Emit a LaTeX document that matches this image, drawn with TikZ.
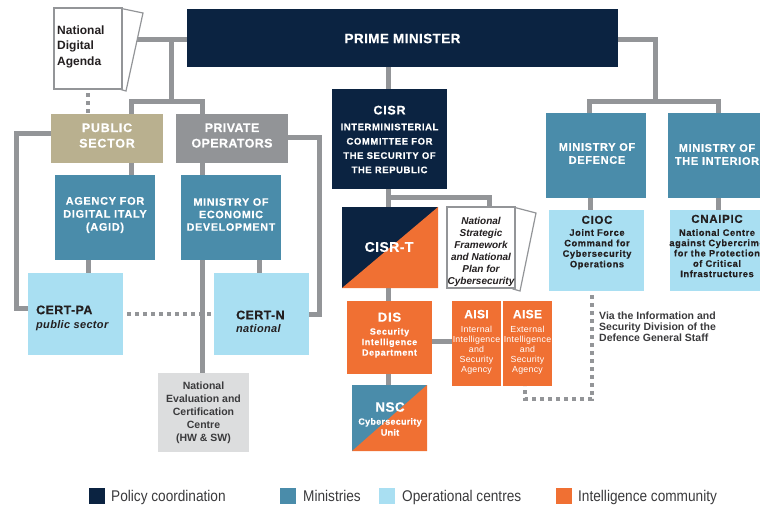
\documentclass[tikz,border=0pt]{standalone}
\usepackage{fontspec}
\setmainfont{Liberation Sans}
\newfontfamily\bxf[LetterSpace=6,BoldFeatures={FakeBold=0.35}]{Liberation Sans}
\newfontfamily\bxs[LetterSpace=3,BoldFeatures={FakeBold=0.35}]{Liberation Sans}
\newfontfamily\legf[FakeStretch=0.88]{Liberation Sans}
\newcommand\fsz[2]{\fontsize{#1}{#2}\selectfont}
\usetikzlibrary{calc,backgrounds}
\definecolor{navy}{HTML}{0B2341}
\definecolor{minblue}{HTML}{4A8CAA}
\definecolor{opblue}{HTML}{A9DFF2}
\definecolor{intor}{HTML}{F07033}
\definecolor{tanc}{HTML}{B9B08F}
\definecolor{boxgray}{HTML}{929497}
\definecolor{lngray}{HTML}{939598}
\definecolor{ltgray}{HTML}{DCDDDE}
\definecolor{ink}{HTML}{231F20}
\definecolor{dkgray}{HTML}{3A3A3C}
\begin{document}
\begin{tikzpicture}[x=1pt,y=-1pt,
  box/.style={rectangle,inner sep=0pt,outer sep=0pt},
  split/.style 2 args={box,fill=#1,path picture={\fill[#2] (path picture bounding box.south west) -- (path picture bounding box.south east) -- (path picture bounding box.north east) -- cycle;}},
  conn/.style={draw=lngray,line width=5pt},
  dotc/.style={draw=lngray,line width=4.5pt,dash pattern=on 4pt off 4pt},
  wt/.style={inner sep=0pt,align=center,text=white},
  dt/.style={inner sep=0pt,align=center,text=ink},
  sheet/.style={fill=white,draw=lngray,line width=1.2pt},
  lgtxt/.style={inner sep=0pt,anchor=base west,text=dkgray,font=\legf\fsz{15.5}{18}},
]
\useasboundingbox (0,0) rectangle (760,506);
\clip (0,0) rectangle (760,506);

% ---------- boxes ----------
\node[box,fill=navy,minimum width=431,minimum height=58] (pm) at (402.5,38) {};
\node[box,fill=tanc,minimum width=112,minimum height=49] (pub) at (107,138.5) {};
\node[box,fill=boxgray,minimum width=112,minimum height=49] (priv) at (232,138.5) {};
\node[box,fill=minblue,minimum width=100,minimum height=85] (agid) at (105,217.5) {};
\node[box,fill=minblue,minimum width=100,minimum height=85] (med) at (231,217.5) {};
\node[box,fill=opblue,minimum width=95,minimum height=82] (certpa) at (75.5,314) {};
\node[box,fill=opblue,minimum width=95,minimum height=82] (certn) at (261.5,314) {};
\node[box,fill=ltgray,minimum width=91,minimum height=79] (nec) at (203.5,412.5) {};
\node[box,fill=navy,minimum width=115,minimum height=100] (cisr) at (389.5,139) {};
\node[split={navy}{intor},minimum width=96,minimum height=81] (cisrt) at (390,247.5) {};
\node[box,fill=intor,minimum width=85,minimum height=73] (dis) at (389.5,337.5) {};
\node[box,fill=intor,minimum width=49,minimum height=85] (aisi) at (476.5,343.5) {};
\node[box,fill=intor,minimum width=49,minimum height=85] (aise) at (527.5,343.5) {};
\node[split={minblue}{intor},minimum width=75,minimum height=66] (nsc) at (389.5,418) {};
\node[box,fill=minblue,minimum width=100,minimum height=85] (mod) at (596,155.5) {};
\node[box,fill=minblue,minimum width=100,minimum height=85] (moi) at (718,155.5) {};
\node[box,fill=opblue,minimum width=95,minimum height=81] (cioc) at (596.5,250.5) {};
\node[box,fill=opblue,minimum width=96,minimum height=81] (cnaipic) at (718,250.5) {};

% documents
\path[sheet] (119,8) -- (143,13) -- (126,91) -- (119,89) -- cycle;
\node[box,sheet,minimum width=68,minimum height=81] (nda) at (88,48.5) {};
\path[sheet] (513,207) -- (536,213) -- (520,291) -- (513,289) -- cycle;
\node[box,sheet,minimum width=68,minimum height=81] (doc) at (481,247.5) {};

% ---------- connectors ----------
\begin{pgfonlayer}{background}
\draw[conn] (pm.west |- 0,39) -- (nda.east |- 0,39);
\coordinate (jl) at (171,39);
\draw[conn] (jl) -- (171,101);
\draw[conn] (pub.north -| 131.5,0) -- (131.5,101) -- (202.5,101) -- (priv.north -| 202.5,0);
\draw[dotc,dash phase=4pt] (nda.south) -- (nda.south |- pub.north);
\draw[conn] (pub.west |- 0,133.5) -- (16.5,133.5) -- (16.5,308.5) -- (certpa.west |- 0,308.5);
\draw[conn] (priv.east |- 0,137.5) -- (319,137.5) -- (319,314) -- (certn.east |- 0,314);
\draw[conn] (pub.south -| 131.5,0) -- (agid.north -| 131.5,0);
\draw[conn] (priv.south -| 202.5,0) -- (med.north -| 202.5,0);
\draw[conn] (agid.south -| 88.5,0) -- (certpa.north -| 88.5,0);
\draw[conn] (med.south -| 259.5,0) -- (certn.north -| 259.5,0);
\draw[dotc,dash phase=4pt] (certpa.east |- 0,314) -- (certn.west |- 0,314);
\draw[conn] (med.south -| 202.5,0) -- (nec.north -| 202.5,0);
% CISR chain
\draw[conn] (pm.south -| 388.7,0) -- (cisr.north -| 388.7,0);
\draw[conn] (cisr.south -| 388.7,0) -- (cisrt.north -| 388.7,0);
\draw[conn] (388.7,197) -- (489,197) -- (doc.north -| 489,0);
\draw[conn] (cisrt.south -| 388.7,0) -- (dis.north -| 388.7,0);
\draw[conn] (dis.east |- 0,341.5) -- (aisi.west |- 0,341.5);
\draw[conn] (dis.south -| 388.7,0) -- (nsc.north -| 388.7,0);
% right branch
\draw[conn] (pm.east |- 0,39) -- (655.5,39) -- (655.5,101);
\draw[conn] (mod.north -| 589.5,0) -- (589.5,101) -- (718.5,101) -- (moi.north -| 718.5,0);
\draw[conn] (mod.south -| 590,0) -- (cioc.north -| 590,0);
\draw[conn] (moi.south -| 718.5,0) -- (cnaipic.north -| 718.5,0);
\draw[dotc,dash phase=4pt] (cioc.south -| 592,0) -- (592,399) -- (525,399) -- (aise.south -| 525,0);
\end{pgfonlayer}

% ---------- texts ----------
\node[wt,font=\bxs\bfseries\fsz{13.5}{16}] (pm-l) at (402.5,38.5) {PRIME MINISTER};
\node[wt,font=\bxf\bfseries\fsz{12.5}{15.5}] (pub-l) at (107,135.5) {PUBLIC\\SECTOR};
\node[wt,font=\bxs\bfseries\fsz{12.5}{15.5}] (priv-l) at (232,135.5) {PRIVATE\\OPERATORS};
\node[wt,font=\bxf\bfseries\fsz{11}{13}] (agid-l) at (105,215) {AGENCY FOR\\DIGITAL ITALY\\(AGID)};
\node[wt,font=\bxf\bfseries\fsz{10.8}{12.5}] (med-l) at (231,214.5) {MINISTRY OF\\ECONOMIC\\DEVELOPMENT};
\node[dt,anchor=west,align=left,font=\bxs\bfseries\fsz{12.5}{14}] (certpa-l) at (36,318) {CERT-PA\\{\itshape\fsz{11}{14}public sector}};
\node[dt,anchor=west,align=left,font=\bxs\bfseries\fsz{12.5}{13}] (certn-l) at (236,321.5) {CERT-N\\{\itshape\fsz{11}{13}national}};
\node[inner sep=0pt,align=center,text=dkgray,font=\bfseries\fsz{10.5}{13}] (nec-l) at (203.5,413) {National\\Evaluation and\\Certification\\Centre\\(HW \& SW)};
\node[wt,font=\bxf\bfseries\fsz{9.5}{14.3}] (cisr-l) at (389.5,139.5) {{\fsz{12.5}{14.3}CISR}\\[1.5pt]INTERMINISTERIAL\\COMMITTEE FOR\\THE SECURITY OF\\THE REPUBLIC};
\node[wt,font=\bxs\bfseries\fsz{14}{16}] (cisrt-l) at (389,247) {CISR-T};
\node[inner sep=0pt,align=center,text=ink,font=\bfseries\itshape\fsz{10}{12}] (doc-l) at (481,252) {National\\Strategic\\Framework\\and National\\Plan for\\Cybersecurity};
\node[wt,font=\bxf\bfseries\fsz{9}{10.5}] (dis-l) at (389.5,335) {{\fsz{13}{10.5}DIS}\\[2.5pt]Security\\Intelligence\\Department};
\node[wt,font=\bxs\fsz{8.8}{10}] (aisi-l) at (476.5,342) {{\bfseries\fsz{12}{10}AISI}\\[4pt]Internal\\Intelligence\\and\\Security\\Agency};
\node[wt,font=\bxs\fsz{8.8}{10}] (aise-l) at (527.5,342) {{\bfseries\fsz{12}{10}AISE}\\[4pt]External\\Intelligence\\and\\Security\\Agency};
\node[wt,font=\bxs\bfseries\fsz{9}{11}] (nsc-l) at (390,419) {{\fsz{13.5}{11}NSC}\\[2pt]Cybersecurity\\Unit};
\node[wt,font=\bxf\bfseries\fsz{11}{13}] (mod-l) at (597,153.5) {MINISTRY OF\\DEFENCE};
\node[wt,font=\bxf\bfseries\fsz{11}{13}] (moi-l) at (717,154.5) {MINISTRY OF\\THE INTERIOR};
\node[dt,font=\bxf\bfseries\fsz{9.3}{10.5}] (cioc-l) at (597,242.5) {{\fsz{11.5}{10.5}CIOC}\\[1.5pt]Joint Force\\Command for\\Cybersecurity\\Operations};
\node[dt,font=\bxf\bfseries\fsz{9.3}{10.3}] (cnaipic-l) at (717,246) {{\fsz{11.5}{10.3}CNAIPIC}\\[2.7pt]National Centre\\against Cybercrime\\for the Protection\\of Critical\\Infrastructures};
\node[dt,anchor=west,align=left,font=\bfseries\fsz{12}{15.5}] (nda-l) at (57,46.5) {National\\Digital\\Agenda};
\node[dt,anchor=west,align=left,text=dkgray,font=\bfseries\fsz{10.5}{11}] (via) at (599,327) {Via the Information and\\Security Division of the\\Defence General Staff};

% ---------- legend ----------
\node[box,fill=navy,minimum size=16] (lg1) at (97,496) {};
\node[lgtxt] (lg1-l) at (111,501.5) {Policy coordination};
\node[box,fill=minblue,minimum size=16] (lg2) at (288,496) {};
\node[lgtxt] (lg2-l) at (303,501.5) {Ministries};
\node[box,fill=opblue,minimum size=16] (lg3) at (387,496) {};
\node[lgtxt] (lg3-l) at (402,501.5) {Operational centres};
\node[box,fill=intor,minimum size=16] (lg4) at (564,496) {};
\node[lgtxt] (lg4-l) at (578,501.5) {Intelligence community};
\end{tikzpicture}
\end{document}
